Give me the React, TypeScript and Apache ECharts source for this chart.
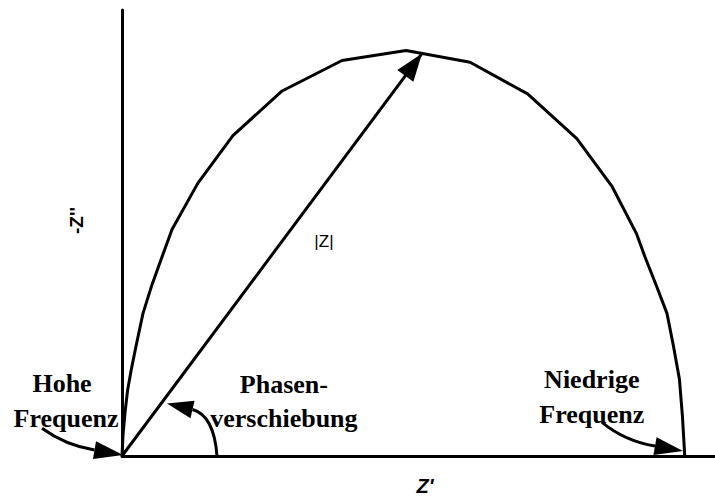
import React, { useEffect, useRef } from "react";
import * as echarts from "echarts";

// Nyquist arc: real part Z' and negative imaginary part -Z'' (arbitrary units)
const arcZRe = [0, 0.17, 0.51, 0.93, 1.52, 2.36, 3.54, 5.06, 6.74, 8.43, 12.8, 18.7, 27.0, 37.1, 47.9, 58.7, 68.4, 76.7, 82.6, 86.8, 88.2, 90.2, 91.9, 93.0, 94.0, 94.5, 94.9];
const arcZIm = [0, 3.54, 7.42, 11.1, 14.5, 18.7, 24.3, 29.2, 33.9, 38.6, 46.5, 54.6, 62.2, 67.4, 69.1, 67.1, 61.7, 54.1, 46.0, 37.8, 33.9, 28.8, 24.3, 18.7, 13.1, 6.9, 0];

// Impedance vector |Z| from origin to the arc
const vectorZRe = [0, 50.6];
const vectorZIm = [0, 68.6];

const zReMax = 100;
const zImMax = 76;

const xAxisTitle = "Z'";
const yAxisTitle = "-Z''";
const magnitudeLabel = "|Z|";
const highFreqLabel = ["Hohe", "Frequenz"];
const phaseLabel = ["Phasen-", "verschiebung"];
const lowFreqLabel = ["Niedrige", "Frequenz"];

const INK = "#000";
const SERIF = "'Liberation Serif', 'Times New Roman', serif";
const SANS = "'Liberation Sans', Arial, sans-serif";

type P = number[];

function arrowHead(tip: P, base: P, halfW: number): P[] {
  const dx = tip[0] - base[0];
  const dy = tip[1] - base[1];
  const len = Math.hypot(dx, dy) || 1;
  const nx = -dy / len;
  const ny = dx / len;
  return [
    [tip[0], tip[1]],
    [base[0] + nx * halfW, base[1] + ny * halfW],
    [base[0] - nx * halfW, base[1] - ny * halfW],
  ];
}

export default function App() {
  const ref = useRef<HTMLDivElement>(null);

  useEffect(() => {
    if (!ref.current) return;
    const chart = echarts.init(ref.current, null, { renderer: "svg" });

    const axisCommon = {
      type: "value",
      axisTick: { show: false },
      axisLabel: { show: false },
      splitLine: { show: false },
      axisLine: { show: true, onZero: false, lineStyle: { color: INK, width: 3 } },
    };

    chart.setOption({
      animation: false,
      backgroundColor: "#ffffff",
      grid: { left: 122, right: 0, top: 10, bottom: 40 },
      xAxis: {
        ...axisCommon,
        min: 0,
        max: zReMax,
        name: xAxisTitle,
        nameLocation: "middle",
        nameGap: 20,
        nameTextStyle: {
          color: INK,
          fontFamily: SANS,
          fontWeight: "bold",
          fontStyle: "italic",
          fontSize: 20,
          padding: [0, 0, 0, 13],
        },
      },
      yAxis: {
        ...axisCommon,
        min: 0,
        max: zImMax,
        name: yAxisTitle,
        nameLocation: "middle",
        nameRotate: 90,
        nameGap: 36,
        nameTextStyle: {
          color: INK,
          fontFamily: SANS,
          fontWeight: "bold",
          fontSize: 19,
          padding: [0, 0, 0, 25],
        },
      },
      series: [
        {
          type: "line",
          data: arcZRe.map((x, i) => [x, arcZIm[i]]),
          symbol: "none",
          smooth: false,
          clip: false,
          silent: true,
          lineStyle: { color: INK, width: 3, join: "round" },
        },
        {
          type: "line",
          data: vectorZRe.map((x, i) => [x, vectorZIm[i]]),
          symbol: "none",
          clip: false,
          silent: true,
          lineStyle: { color: INK, width: 3 },
        },
      ],
    });

    const p = (x: number, y: number): P =>
      chart.convertToPixel({ gridIndex: 0 }, [x, y]) as number[];

    // main vector arrow head
    const vTip = p(vectorZRe[1], vectorZIm[1]);
    const vStart = p(vectorZRe[0], vectorZIm[0]);
    const vdx = vTip[0] - vStart[0];
    const vdy = vTip[1] - vStart[1];
    const vl = Math.hypot(vdx, vdy);
    const vBase = [vTip[0] - (vdx / vl) * 28, vTip[1] - (vdy / vl) * 28];

    const curvedArrow = (s: P, c: P, b: P, t: P) => {
      const S = p(s[0], s[1]);
      const C = p(c[0], c[1]);
      const B = p(b[0], b[1]);
      const T = p(t[0], t[1]);
      return [
        {
          type: "bezierCurve",
          silent: true,
          shape: { x1: S[0], y1: S[1], cpx1: C[0], cpy1: C[1], x2: B[0], y2: B[1] },
          style: { stroke: INK, lineWidth: 3, fill: "none" },
        },
        {
          type: "polygon",
          silent: true,
          shape: { points: arrowHead(T, B, 9) },
          style: { fill: INK },
        },
      ];
    };

    const label = (text: string, at: P, font: any) => {
      const q = p(at[0], at[1]);
      return {
        type: "text",
        silent: true,
        x: q[0],
        y: q[1],
        style: {
          text,
          fill: INK,
          textAlign: "center",
          textVerticalAlign: "middle",
          ...font,
        },
      };
    };

    const serifBold = { fontFamily: SERIF, fontWeight: "bold", fontSize: 26 };

    chart.setOption({
      graphic: [
        {
          type: "polygon",
          silent: true,
          shape: { points: arrowHead(vTip, vBase, 10) },
          style: { fill: INK },
        },
        ...curvedArrow([-13.49, 4.72], [-9.61, 1.85], [-4.64, 1.01], [0.17, 0.17]),
        ...curvedArrow([16.02, 0], [15.51, 6.91], [11.89, 7.92], [7.59, 8.93]),
        ...curvedArrow([80.94, 5.73], [84.82, 2.53], [89.88, 1.69], [94.6, 0.84]),
        label(highFreqLabel[0], [-10.11, 12.4], serifBold),
        label(highFreqLabel[1], [-9.44, 6.45], serifBold),
        label(phaseLabel[0], [27.3, 12.1], serifBold),
        label(phaseLabel[1], [27.3, 6.4], serifBold),
        label(lowFreqLabel[0], [79.22, 13.0], serifBold),
        label(lowFreqLabel[1], [79.22, 7.1], serifBold),
        label(magnitudeLabel, [34.06, 36.6], { fontFamily: SANS, fontSize: 17 }),
      ],
    });

    return () => chart.dispose();
  }, []);

  return (
    <div
      ref={ref}
      style={{ position: "fixed", left: 0, top: 0, width: 715, height: 501, background: "#fff" }}
    />
  );
}
